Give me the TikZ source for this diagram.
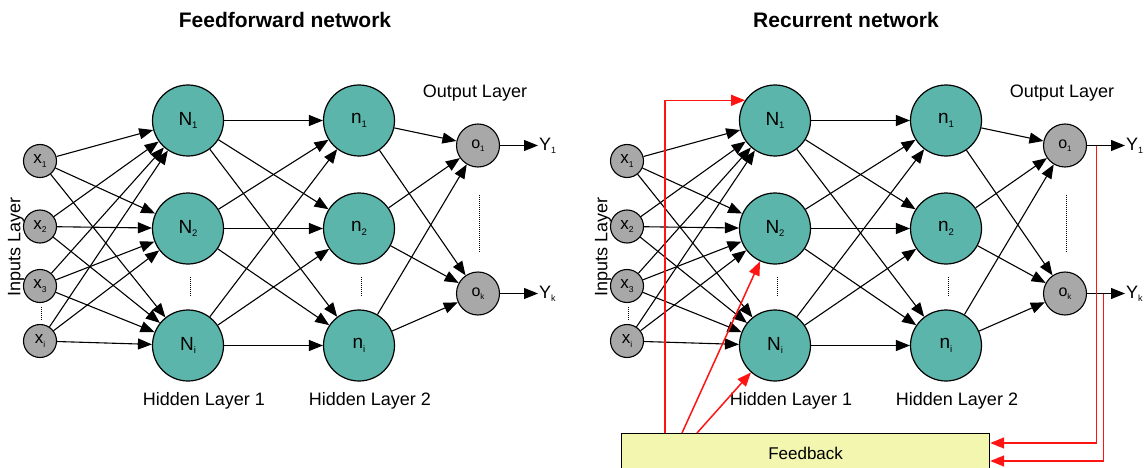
\documentclass[tikz,border=0pt]{standalone}
\usepackage{fontspec}
\setmainfont{Liberation Sans}
\usetikzlibrary{arrows.meta,calc}
\definecolor{nodeteal}{RGB}{91,181,170}
\definecolor{nodegrey}{RGB}{168,168,168}
\definecolor{fbfill}{RGB}{242,246,174}
\definecolor{fbred}{RGB}{255,20,20}
\newcommand\mysub[1]{\raisebox{-0.35ex}{\scalebox{0.5}{#1}}}
\begin{document}
\begin{tikzpicture}[x=1pt,y=-1pt,
  big/.style={circle,draw,line width=1.2pt,fill=nodeteal,minimum size=71pt,inner sep=0pt,font=\fontsize{19}{19}\selectfont},
  inp/.style={circle,draw,line width=1.1pt,fill=nodegrey,minimum size=33pt,inner sep=0pt,font=\fontsize{17}{17}\selectfont},
  outn/.style={circle,draw,line width=1.1pt,fill=nodegrey,minimum size=43pt,inner sep=0pt,font=\fontsize{16}{16}\selectfont},
  conn/.style={line width=1.1pt,-{Triangle[length=14pt,width=11pt]}},
  fbline/.style={draw=fbred,line width=1.5pt},
  fbk/.style={fbline,-{Triangle[length=14pt,width=11pt,fill=fbred]}},
  lbl/.style={font=\fontsize{18}{18}\selectfont,inner sep=0pt},
  ylbl/.style={font=\fontsize{18}{18}\selectfont,inner sep=1pt,anchor=west},
  ttl/.style={font=\bfseries\fontsize{21}{21}\selectfont,inner sep=0pt},
  vdots/.style={line width=0.9pt,dash pattern=on 1pt off 1pt},
  fbbox/.style={draw,line width=1.2pt,fill=fbfill,anchor=north west,minimum width=368pt,minimum height=40pt,inner sep=0pt,font=\fontsize{17}{17}\selectfont}
]
\useasboundingbox (0,0) rectangle (1145,468);

\node[ttl] (t1) at (285,20) {Feedforward network};
\node[ttl] (t2) at (846,20) {Recurrent network};

\foreach \p/\dx in {L/0,R/587}{
\begin{scope}[xshift=\dx pt]
  \node[inp] (\p x1) at (40,161) {x\mysub{1}};
  \node[inp] (\p x2) at (40,226.5) {x\mysub{2}};
  \node[inp] (\p x3) at (40,286) {x\mysub{3}};
  \node[inp] (\p xi) at (40,341) {x\mysub{i}};
  \node[big] (\p N1) at (188,120.5) {N\mysub{1}};
  \node[big] (\p N2) at (188,228.5) {N\mysub{2}};
  \node[big] (\p Ni) at (188,345.5) {N\mysub{i}};
  \node[big] (\p n1) at (359,120.5) {n\mysub{1}};
  \node[big] (\p n2) at (359,228.5) {n\mysub{2}};
  \node[big] (\p ni) at (359,345.5) {n\mysub{i}};
  \node[outn] (\p o1) at (478,145.5) {o\mysub{1}};
  \node[outn] (\p ok) at (478,293.5) {o\mysub{k}};
  \node[ylbl] (\p Y1) at (538,145.5) {Y\mysub{1}};
  \node[ylbl] (\p Yk) at (538,293.5) {Y\mysub{k}};
  \node[lbl] (\p hl1) at (204,401) {Hidden Layer 1};
  \node[lbl] (\p hl2) at (370,401) {Hidden Layer 2};
  \node[lbl] (\p ol) at (475,93) {Output Layer};
  \node[lbl,rotate=90] (\p il) at (16,247) {Inputs Layer};
  \draw[vdots] (41,307) -- (41,321);
  \draw[vdots] (190,277) -- (190,296);
  \draw[vdots] (361,277) -- (361,296);
  \draw[vdots] (479,195) -- (479,253);
\end{scope}
  \foreach \a in {x1,x2,x3,xi}{
    \foreach \b in {N1,N2,Ni}{
      \draw[conn] (\p\a) -- (\p\b);
    }
  }
  \foreach \a in {N1,N2,Ni}{
    \foreach \b in {n1,n2,ni}{
      \draw[conn] (\p\a) -- (\p\b);
    }
  }
  \foreach \a in {n1,n2,ni}{
    \foreach \b in {o1,ok}{
      \draw[conn] (\p\a) -- (\p\b);
    }
  }
  \draw[conn] (\p o1) -- (\p Y1);
  \draw[conn] (\p ok) -- (\p Yk);
}

% feedback
\node[fbbox] (fb) at (621,433) {Feedback};
\coordinate (fa) at (665,433);
\coordinate (fbb) at (682,433);
\coordinate (fc) at (697,433);
\coordinate (fcorner) at (fa |- RN1.146);
\draw[fbline] (fa) -- (fcorner);
\draw[fbk] (fcorner) -- (RN1.146);
\draw[fbk] (fbb) -- (RN2);
\draw[fbk] (fc) -- (RNi);
\coordinate (r1) at ([xshift=9.5pt]Ro1.east);
\coordinate (r2) at ([xshift=16.5pt]Rok.east);
\draw[fbk] (r1) |- ([yshift=-10pt]fb.north east);
\draw[fbk] (r2) |- ([yshift=-28pt]fb.north east);
\end{tikzpicture}
\end{document}
